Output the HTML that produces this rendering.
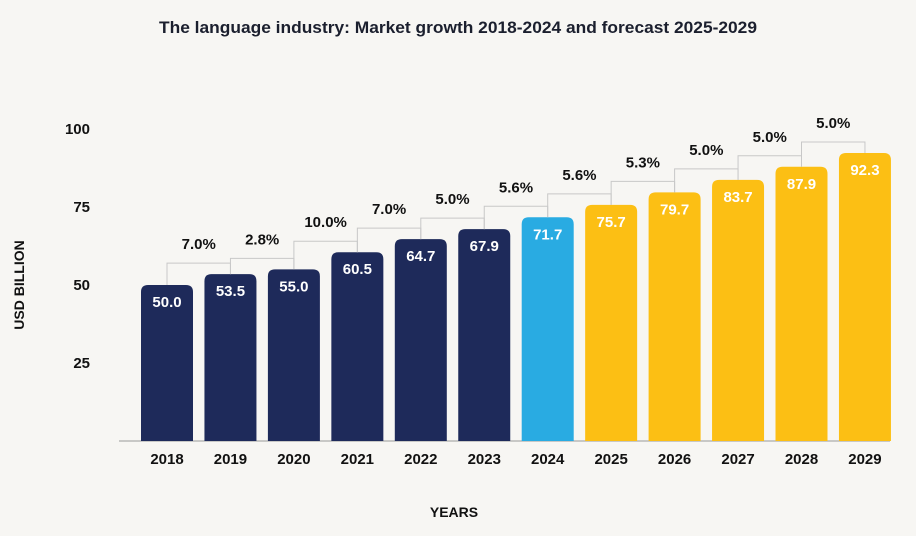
<!DOCTYPE html>
<html><head><meta charset="utf-8">
<style>
html,body{margin:0;padding:0;background:#f7f6f3;}
svg{display:block;font-family:"Liberation Sans",sans-serif;}
</style></head>
<body>
<svg id="chart" width="916" height="536" viewBox="0 0 916 536">
<rect width="916" height="536" fill="#f7f6f3"/>
<text x="458" y="33" text-anchor="middle" font-size="17" font-weight="bold" fill="#1b1f2e" textLength="598" lengthAdjust="spacingAndGlyphs">The language industry: Market growth 2018-2024 and forecast 2025-2029</text>
<text transform="translate(24,285) rotate(-90)" text-anchor="middle" font-size="14" font-weight="bold" fill="#111">USD BILLION</text>
<text x="454" y="517" text-anchor="middle" font-size="14" font-weight="bold" fill="#111">YEARS</text>
<line x1="119" y1="441" x2="890" y2="441" stroke="#9a9a9a" stroke-width="1"/>
<g id="plot"></g>
</svg>
<script>
const years=["2018","2019","2020","2021","2022","2023","2024","2025","2026","2027","2028","2029"];
const values=[50.0,53.5,55.0,60.5,64.7,67.9,71.7,75.7,79.7,83.7,87.9,92.3];
const growth=["7.0%","2.8%","10.0%","7.0%","5.0%","5.6%","5.6%","5.3%","5.0%","5.0%","5.0%"];
const kinds=["hist","hist","hist","hist","hist","hist","current","fc","fc","fc","fc","fc"];
const yTicks=[25,50,75,100];

const NS="http://www.w3.org/2000/svg";
const g=document.getElementById("plot");
const y=v=>441-v*3.12;
const xc=i=>167+i*63.45;
const bw=52;
const colors={hist:"#1e2a5a",current:"#29abe2",fc:"#fcbf14"};
function mk(t,a){const e=document.createElementNS(NS,t);for(const k in a)e.setAttribute(k,a[k]);g.appendChild(e);return e;}

yTicks.forEach(t=>{
  const e=mk("text",{x:90,y:y(t)+5,"text-anchor":"end","font-size":"15","font-weight":"bold",fill:"#111"});
  e.textContent=t;
  
  
});

values.forEach((v,i)=>{
  const x0=xc(i)-bw/2,top=y(v),h=441-top,r=7;
  const p=mk("path",{d:`M${x0},441 V${top+r} Q${x0},${top} ${x0+r},${top} H${x0+bw-r} Q${x0+bw},${top} ${x0+bw},${top+r} V441 Z`,fill:colors[kinds[i]]});
  
  
  const l=mk("text",{x:xc(i),y:top+22,"text-anchor":"middle","font-size":"15","font-weight":"bold",fill:"#fff"});
  l.textContent=v.toFixed(1);
  
  
  const xl=mk("text",{x:xc(i),y:464,"text-anchor":"middle","font-size":"15","font-weight":"bold",fill:"#111"});
  xl.textContent=years[i];
  
  
});

growth.forEach((gr,i)=>{
  const ly=y(values[i+1])-11;
  const c=mk("path",{d:`M${xc(i)},${y(values[i])} V${ly} H${xc(i+1)} V${y(values[i+1])}`,fill:"none",stroke:"#c8c8c8","stroke-width":"1"});
  
  
  const t=mk("text",{x:(xc(i)+xc(i+1))/2,y:ly-14,"text-anchor":"middle","font-size":"15","font-weight":"bold",fill:"#111"});
  t.textContent=gr;
  
  
});
</script>
</body></html>
